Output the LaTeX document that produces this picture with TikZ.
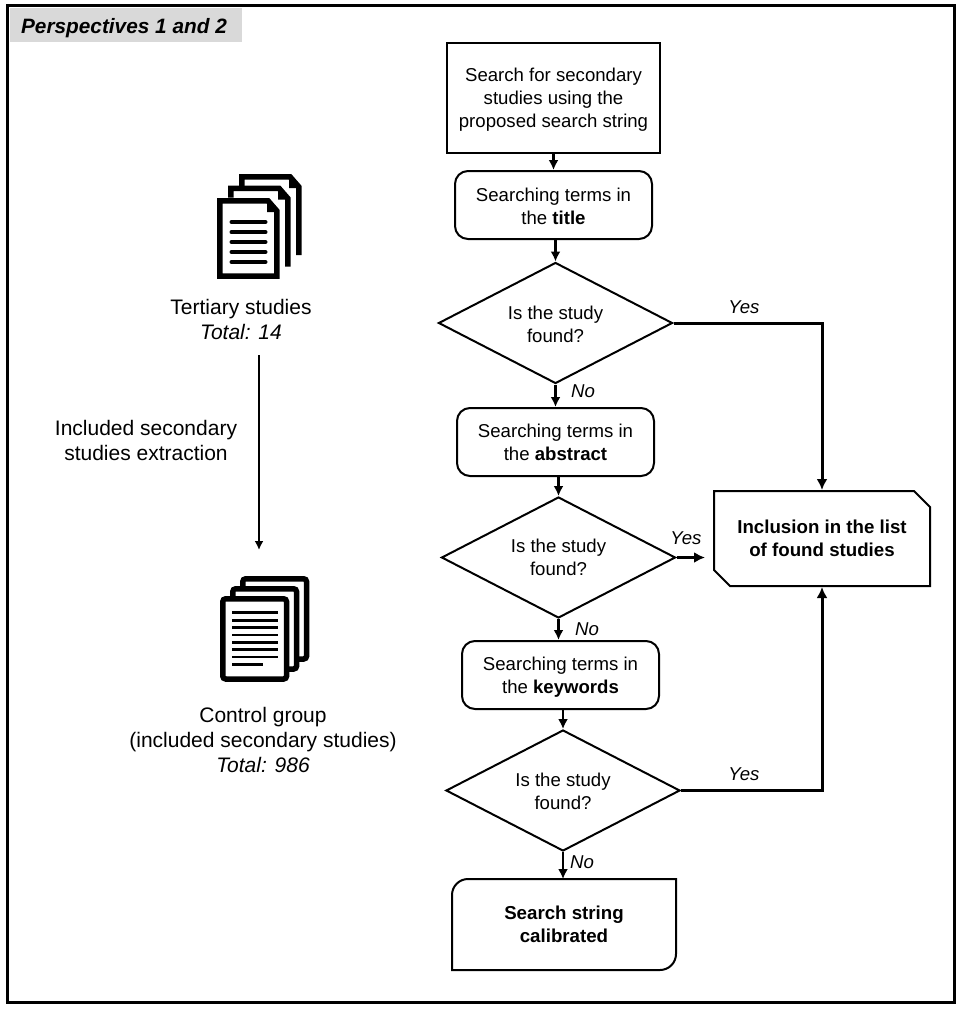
\documentclass[tikz,border=0pt]{standalone}
\usepackage{fontspec}
\setmainfont{Liberation Sans}
\usetikzlibrary{shapes, arrows.meta}
\tikzstyle{flowbox} = [draw, line width=2pt, rectangle, inner sep=0pt, align=center, font=\fontsize{18.6}{23}\selectfont, minimum width=197, minimum height=68]
\tikzstyle{roundbox} = [flowbox, rounded corners=13]
\tikzstyle{found} = [draw, line width=2pt, diamond, aspect=1.93, inner sep=0pt, align=center, font=\fontsize{18.6}{23}\selectfont, minimum width=234, minimum height=121]
\tikzstyle{endbox} = [inner sep=0pt, outer sep=0pt, align=center, font=\fontsize{18.7}{23}\selectfont\bfseries]
\tikzstyle{flow} = [-{Latex[length=10pt, width=10pt]}, line width=2.4pt]
\tikzstyle{branch} = [-{Latex[length=11pt, width=11pt]}, line width=3pt]
\tikzstyle{answer} = [inner sep=0pt, font=\fontsize{18.6}{22}\selectfont\itshape]
\tikzstyle{sidetext} = [inner sep=0pt, align=center, font=\fontsize{21}{25}\selectfont]
\tikzset{
  foldstack/.pic={
    \foreach \dx/\dy in {22/-24, 11/-12.5} {
      \draw[line width=5.5pt] (2.75+\dx,\dy+12) -- (2.75+\dx,2.75+\dy) -- (51+\dx,2.75+\dy) -- (59.9+\dx,13+\dy) -- (59.9+\dx,81+\dy);
      \fill (50+\dx,2+\dy) -- (50+\dx,14+\dy) -- (62+\dx,14+\dy) -- cycle;
    }
    \draw[line width=5.5pt] (2.75,2.75) -- (51,2.75) -- (59.9,13) -- (59.9,78) -- (2.75,78) -- cycle;
    \fill (50,2) -- (50,14) -- (62,14) -- cycle;
    \foreach \ly in {24,34.3,44,54,64} {
      \draw[line width=4pt, line cap=round] (14.5,\ly) -- (48.5,\ly);
    }
  },
  plainstack/.pic={
    \foreach \dd in {20,10,0} {
      \draw[line width=5.5pt, rounded corners=3, fill=white] (2.75+\dd,2.75-\dd) rectangle (66.6+\dd,83-\dd);
    }
    \foreach \ly in {16.7,24.3,31.7,39,46.3,53.7,61} {
      \draw[line width=2.5pt] (12.3,\ly) -- (57.7,\ly);
    }
    \draw[line width=2.5pt] (12.3,68.3) -- (43.3,68.3);
  }
}

\begin{document}
\begin{tikzpicture}[x=1pt, y=-1pt]
  \useasboundingbox (0,0) rectangle (959,1009);
  \draw[line width=3pt] (7,5) rectangle (954,1002);
  \node[fill=black!15, inner sep=0pt, minimum width=232, minimum height=34, font=\fontsize{20.8}{24}\selectfont\bfseries\itshape] (perspectives) at (126,25) {\hspace{-4pt}\rule{0pt}{21pt}Perspectives 1 and 2};

  % left column
  \pic at (217,198) {foldstack};
  \node[sidetext] (tertiary) at (241,319) {Tertiary studies\\{\itshape Total: 14}};
  \node[sidetext] (extraction) at (146,440) {Included secondary\\studies extraction};
  \pic at (220,596) {plainstack};
  \node[sidetext] (control) at (263,740) {Control group\\(included secondary studies)\\{\itshape Total: 986}};
  \coordinate (extractstart) at (259,355);
  \coordinate (extractend) at (259,550);
  \draw[-{Latex[length=9pt, width=9pt]}, line width=2.2pt] (extractstart) -- (extractend);

  % search flow
  \node[flowbox, minimum width=213, minimum height=110] (search) at (553.5,98) {\rule{0pt}{17.5pt}Search for secondary\\studies using the\\proposed search string};
  \node[roundbox] (title) at (553.5,205) {\rule{0pt}{15.5pt}Searching terms in\\the \textbf{title}};
  \node[found] (found1) at (555.5,323) {\rule{0pt}{15.5pt}Is the study\\found?};
  \node[roundbox] (abstract) at (555.5,442) {Searching terms in\\the \textbf{abstract}};
  \node[found] (found2) at (558.5,557.5) {Is the study\\found?};
  \node[roundbox] (keywords) at (560.5,675) {\rule{0pt}{17.5pt}Searching terms in\\the \textbf{keywords}};
  \node[found] (found3) at (563,790.5) {\rule{0pt}{15.5pt}Is the study\\found?};
  \node[endbox, minimum width=224, minimum height=91] (calibrated) at (564,924.5) {Search string\\calibrated};
  \draw[line width=2pt] (calibrated.south west) [rounded corners=16] -- (calibrated.north west) [sharp corners] -- (calibrated.north east) [rounded corners=16] -- (calibrated.south east) [sharp corners] -- (calibrated.south west) -- cycle;
  \node[chamfered rectangle, chamfered rectangle corners={north east, south west}, chamfered rectangle xsep=8, chamfered rectangle ysep=8, draw, line width=2pt, inner sep=0pt, align=center, font=\fontsize{18.7}{23}\selectfont\bfseries, minimum width=216, minimum height=95] (inclusion) at (822,538.5) {Inclusion in the list\\of found studies};

  \draw[flow] (search.south) -- (title.north);
  \draw[flow] (title.south -| found1.north) -- (found1.north);
  \draw[flow] (found1.south) -- (abstract.north -| found1.south);
  \draw[flow] (abstract.south -| found2.north) -- (found2.north);
  \draw[flow] (found2.south) -- (keywords.north -| found2.south);
  \draw[flow] (keywords.south -| found3.north) -- (found3.north);
  \draw[flow] (found3.south) -- (calibrated.north -| found3.south);
  \draw[branch] (found1.east) -| (inclusion.north);
  \draw[branch, shorten >=8] (found2.east) -- (inclusion.west |- found2.east);
  \draw[branch] (found3.east) -| (inclusion.south);

  \node[answer] (yes1) at (744,307) {Yes};
  \node[answer] (no1) at (583,391) {No};
  \node[answer] (yes2) at (686,538) {Yes};
  \node[answer] (no2) at (587,629) {No};
  \node[answer] (yes3) at (744,774) {Yes};
  \node[answer] (no3) at (582,862) {No};
\end{tikzpicture}
\end{document}
